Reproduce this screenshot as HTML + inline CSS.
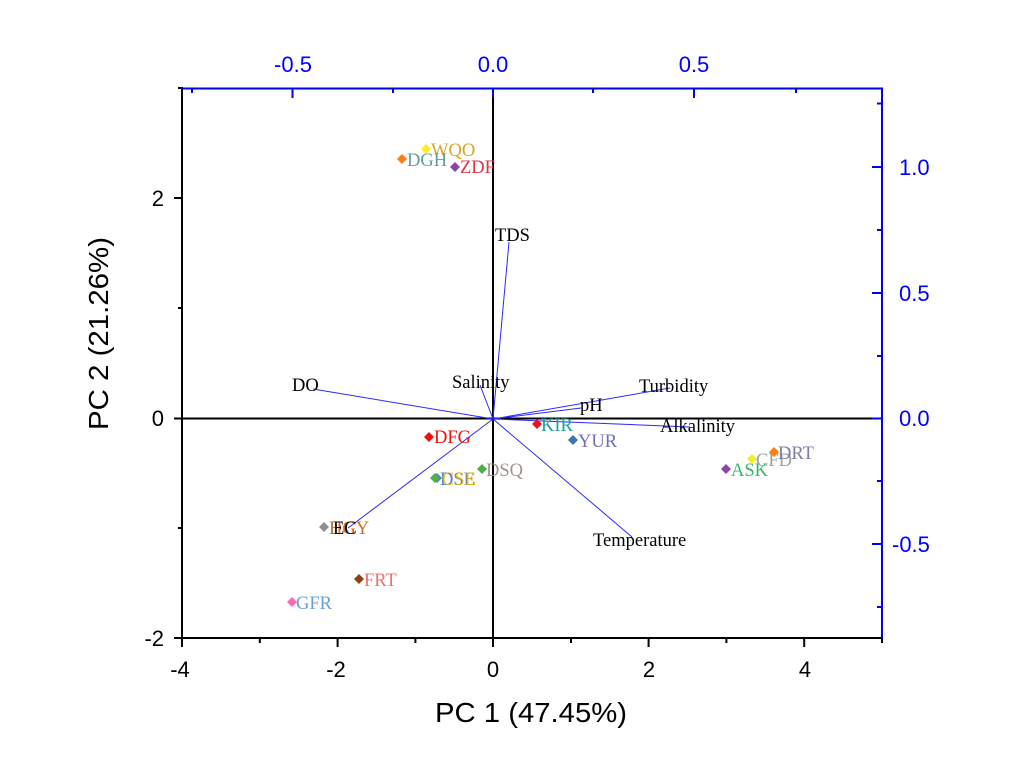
<!DOCTYPE html>
<html>
<head>
<meta charset="utf-8">
<style>
  html,body{margin:0;padding:0;background:#fff;}
  svg{display:block;}
  .ax{font-family:"Liberation Sans",Arial,sans-serif;}
  .lb{font-family:"Liberation Serif","Times New Roman",serif;font-size:18.5px;}
</style>
</head>
<body>
<svg width="1024" height="768" viewBox="0 0 1024 768" xmlns="http://www.w3.org/2000/svg">
  <rect width="1024" height="768" fill="#fff"/>

  <!-- zero lines -->
  <line x1="182" y1="418.5" x2="882" y2="418.5" stroke="#000" stroke-width="2"/>
  <line x1="493" y1="88" x2="493" y2="638" stroke="#000" stroke-width="2"/>

  <!-- vectors -->
  <g stroke="#2a2aff" stroke-width="1" fill="none">
    <line x1="493" y1="419" x2="509" y2="242"/>
    <line x1="493" y1="419" x2="313" y2="389"/>
    <line x1="493" y1="419" x2="480" y2="385"/>
    <line x1="493" y1="419" x2="670" y2="388"/>
    <line x1="493" y1="419" x2="581" y2="408"/>
    <line x1="493" y1="419" x2="690" y2="427"/>
    <line x1="493" y1="419" x2="632" y2="537"/>
    <line x1="493" y1="419" x2="348" y2="528"/>
  </g>

  <!-- vector labels -->
  <g class="lb" fill="#000">
    <text x="495" y="241">TDS</text>
    <text x="292" y="391">DO</text>
    <text x="452" y="388">Salinity</text>
    <text x="639" y="392">Turbidity</text>
    <text x="580" y="411">pH</text>
    <text x="660" y="432">Alkalinity</text>
    <text x="593" y="546">Temperature</text>
  </g>

  <!-- points -->
  <g>
    <path d="M426 144 L431 149 L426 154 L421 149 Z" fill="#ffee22"/>
    <text class="lb" x="431" y="156" fill="#d8a428">WQO</text>
    <path d="M402 154 L407 159 L402 164 L397 159 Z" fill="#ff7f0e"/>
    <text class="lb" x="407" y="166" fill="#5f9ea0">DGH</text>
    <path d="M455 162 L460 167 L455 172 L450 167 Z" fill="#8e44ad"/>
    <text class="lb" x="460" y="173" fill="#dc3545">ZDF</text>
    <path d="M429 432 L434 437 L429 442 L424 437 Z" fill="#ee1111"/>
    <text class="lb" x="434" y="443" fill="#ee1111">DFG</text>
    <path d="M537 419 L542 424 L537 429 L532 424 Z" fill="#e8141e"/>
    <text class="lb" x="541" y="431" fill="#1aa3a3">KIR</text>
    <path d="M573 435 L578 440 L573 445 L568 440 Z" fill="#3a78b5"/>
    <text class="lb" x="578" y="447" fill="#7070b8">YUR</text>
    <path d="M482 464 L487 469 L482 474 L477 469 Z" fill="#4cae4c"/>
    <text class="lb" x="486" y="476" fill="#a0968c">DSQ</text>
    <path d="M437 473 L442 478 L437 483 L432 478 Z" fill="#4f81bd"/>
    <path d="M435 473 L440 478 L435 483 L430 478 Z" fill="#4cae4c"/>
    <text class="lb" x="440" y="485" fill="#4f81bd">DSE</text>
    <text class="lb" x="442" y="485" fill="#f0b400" fill-opacity="0.85">CSE</text>
    <path d="M324 522 L329 527 L324 532 L319 527 Z" fill="#909090"/>
    <text class="lb" x="329" y="534" fill="#d2691e">HGY</text>
    <text class="lb" x="333" y="534" fill="#000">EC</text>
    <path d="M359 574 L364 579 L359 584 L354 579 Z" fill="#8b4513"/>
    <text class="lb" x="364" y="586" fill="#f07070">FRT</text>
    <path d="M292 597 L297 602 L292 607 L287 602 Z" fill="#ff69b4"/>
    <text class="lb" x="296" y="609" fill="#6a9fd4">GFR</text>
    <path d="M726 464 L731 469 L726 474 L721 469 Z" fill="#8e44ad"/>
    <text class="lb" x="731" y="476" fill="#3cb371">ASK</text>
    <path d="M752 454 L757 459 L752 464 L747 459 Z" fill="#f5f020"/>
    <text class="lb" x="756" y="466" fill="#a0a0a0">CFD</text>
    <path d="M774 447 L779 452 L774 457 L769 452 Z" fill="#ff7f0e"/>
    <text class="lb" x="778" y="459" fill="#7b7ba8">DRT</text>
  </g>

  <!-- left axis -->
  <line x1="182" y1="87" x2="182" y2="639" stroke="#000" stroke-width="2"/>
  <g stroke="#000" stroke-width="2">
    <line x1="174" y1="198" x2="182" y2="198"/>
    <line x1="174" y1="418.5" x2="182" y2="418.5"/>
    <line x1="174" y1="638" x2="182" y2="638"/>
    <line x1="178" y1="308" x2="182" y2="308"/>
    <line x1="178" y1="528" x2="182" y2="528"/>
    <line x1="178" y1="88" x2="182" y2="88"/>
  </g>
  <g class="ax" font-size="22" fill="#000" text-anchor="end">
    <text x="164" y="206">2</text>
    <text x="164" y="426">0</text>
    <text x="164" y="646">-2</text>
  </g>

  <!-- bottom axis -->
  <line x1="181" y1="638" x2="883" y2="638" stroke="#000" stroke-width="2"/>
  <g stroke="#000" stroke-width="2">
    <line x1="182" y1="638" x2="182" y2="647"/>
    <line x1="337.6" y1="638" x2="337.6" y2="647"/>
    <line x1="493" y1="638" x2="493" y2="647"/>
    <line x1="648.6" y1="638" x2="648.6" y2="647"/>
    <line x1="804.2" y1="638" x2="804.2" y2="647"/>
    <line x1="259.8" y1="638" x2="259.8" y2="643"/>
    <line x1="415.4" y1="638" x2="415.4" y2="643"/>
    <line x1="571" y1="638" x2="571" y2="643"/>
    <line x1="726.4" y1="638" x2="726.4" y2="643"/>
    <line x1="882" y1="638" x2="882" y2="643"/>
  </g>
  <g class="ax" font-size="22" fill="#000" text-anchor="middle">
    <text x="180" y="677">-4</text>
    <text x="336" y="677">-2</text>
    <text x="493" y="677">0</text>
    <text x="649" y="677">2</text>
    <text x="805" y="677">4</text>
  </g>

  <!-- top axis (blue) -->
  <line x1="181" y1="88.5" x2="883" y2="88.5" stroke="#0000ff" stroke-width="2"/>
  <g stroke="#0000ff" stroke-width="2">
    <line x1="292.5" y1="88" x2="292.5" y2="98"/>
    <line x1="493" y1="88" x2="493" y2="98"/>
    <line x1="694" y1="88" x2="694" y2="98"/>
    <line x1="192" y1="88" x2="192" y2="93"/>
    <line x1="393" y1="88" x2="393" y2="93"/>
    <line x1="593" y1="88" x2="593" y2="93"/>
    <line x1="796" y1="88" x2="796" y2="93"/>
  </g>
  <g class="ax" font-size="22" fill="#0000ff" text-anchor="middle">
    <text x="293" y="72">-0.5</text>
    <text x="493" y="72">0.0</text>
    <text x="694" y="72">0.5</text>
  </g>

  <!-- right axis (blue) -->
  <line x1="882" y1="88" x2="882" y2="638" stroke="#0000ff" stroke-width="2"/>
  <g stroke="#0000ff" stroke-width="2">
    <line x1="872" y1="167" x2="882" y2="167"/>
    <line x1="872" y1="293" x2="882" y2="293"/>
    <line x1="872" y1="418.5" x2="882" y2="418.5"/>
    <line x1="872" y1="544" x2="882" y2="544"/>
    <line x1="877" y1="103.5" x2="882" y2="103.5"/>
    <line x1="877" y1="230" x2="882" y2="230"/>
    <line x1="877" y1="356" x2="882" y2="356"/>
    <line x1="877" y1="481" x2="882" y2="481"/>
    <line x1="877" y1="607" x2="882" y2="607"/>
  </g>
  <g class="ax" font-size="22" fill="#0000ff" text-anchor="start">
    <text x="899" y="175">1.0</text>
    <text x="899" y="301">0.5</text>
    <text x="899" y="426">0.0</text>
    <text x="892" y="552">-0.5</text>
  </g>

  <!-- axis titles -->
  <text class="ax" x="435" y="722" font-size="28" textLength="192" lengthAdjust="spacingAndGlyphs" fill="#000">PC 1 (47.45%)</text>
  <text class="ax" transform="translate(108,430) rotate(-90)" font-size="28" textLength="193" lengthAdjust="spacingAndGlyphs" fill="#000">PC 2 (21.26%)</text>
</svg>
</body>
</html>
